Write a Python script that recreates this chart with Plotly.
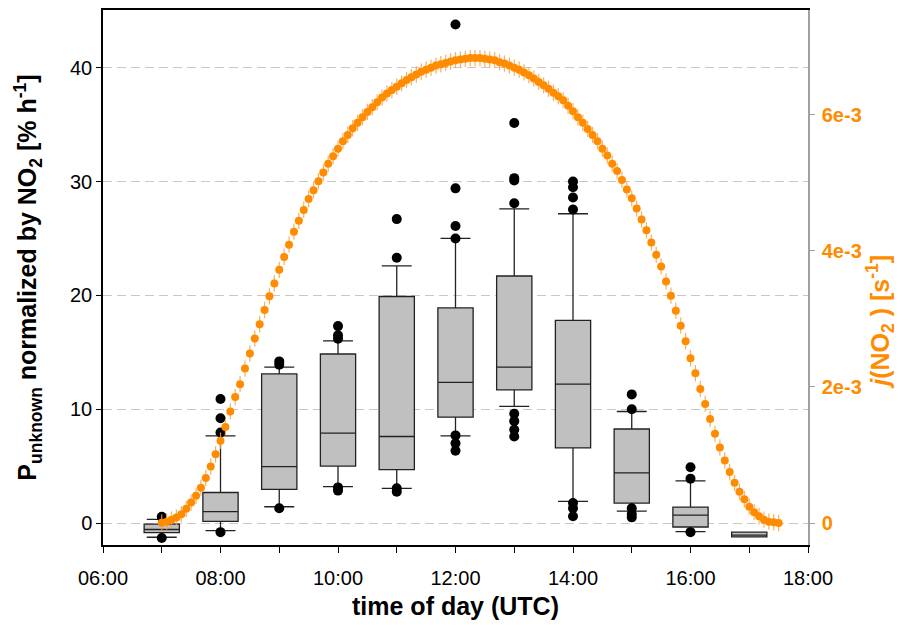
import plotly.graph_objects as go

# ---- box-plot statistics (P_unknown normalized by NO2, % h^-1) ----
box_hours = [7, 8, 9, 10, 11, 12, 13, 14, 15, 16, 17]
box_q1 = [-0.85, 0.15, 2.95, 5.0, 4.7, 9.3, 11.7, 6.6, 1.75, -0.35, -1.22]
box_median = [-0.57, 1.0, 4.95, 7.9, 7.6, 12.35, 13.7, 12.2, 4.4, 0.7, -1.06]
box_q3 = [-0.1, 2.68, 13.1, 14.85, 19.9, 18.9, 21.7, 17.8, 8.26, 1.4, -0.8]
box_lower = [-1.25, -0.67, 1.43, 3.19, 3.05, 7.65, 10.25, 1.9, 1.05, -0.75, -1.22]
box_upper = [0.32, 7.66, 13.7, 16.0, 22.6, 25.0, 27.6, 27.17, 9.8, 3.7, -0.8]

# ---- outliers ----
outlier_hours = [7, 7,
                 8, 8, 8, 8,
                 9, 9, 9,
                 10, 10, 10, 10, 10,
                 11, 11, 11, 11,
                 12, 12, 12, 12, 12, 12, 12,
                 13, 13, 13, 13, 13, 13, 13, 13,
                 14, 14, 14, 14, 14, 14, 14,
                 15, 15, 15, 15, 15,
                 16, 16, 16]
outlier_values = [0.55, -1.32,
                  10.9, 9.2, 7.95, -0.8,
                  14.2, 13.9, 1.3,
                  17.3, 16.5, 16.2, 3.13, 2.85,
                  26.7, 23.3, 3.05, 2.75,
                  43.8, 29.4, 26.1, 25.0, 7.7, 7.0, 6.35,
                  35.15, 30.3, 30.1, 28.1, 9.6, 8.95, 8.2, 7.6,
                  30.0, 29.5, 28.6, 27.55, 1.75, 1.3, 0.6,
                  11.3, 10.0, 1.3, 0.8, 0.5,
                  4.9, 3.9, -0.8]

# ---- j(NO2), 5-min means from 07:00 to 17:30 (units of 1e-3 s^-1) ----
j_start_hour = 7.0
j_step_hour = 5.0 / 60.0
j_values_e3 = [
    0.005, 0.02, 0.05, 0.08, 0.13, 0.21, 0.30, 0.40, 0.52, 0.66, 0.83, 1.01,   # 07:00-07:55
    1.21, 1.41, 1.64, 1.85, 2.04, 2.27, 2.49, 2.71, 2.92, 3.13, 3.33, 3.52,     # 08:00-08:55
    3.72, 3.91, 4.09, 4.28, 4.44, 4.60, 4.76, 4.89, 5.02, 5.15, 5.28, 5.39,     # 09:00-09:55
    5.50, 5.61, 5.70, 5.80, 5.88, 5.96, 6.04, 6.11, 6.18, 6.25, 6.31, 6.36,     # 10:00-10:55
    6.41, 6.46, 6.51, 6.55, 6.59, 6.63, 6.66, 6.69, 6.72, 6.74, 6.76, 6.78,     # 11:00-11:55
    6.80, 6.81, 6.82, 6.83, 6.83, 6.83, 6.82, 6.81, 6.80, 6.77, 6.75, 6.72,     # 12:00-12:55
    6.69, 6.66, 6.62, 6.58, 6.53, 6.48, 6.43, 6.38, 6.32, 6.27, 6.21, 6.13,     # 13:00-13:55
    6.05, 5.96, 5.88, 5.79, 5.70, 5.61, 5.50, 5.40, 5.28, 5.17, 5.04, 4.90,     # 14:00-14:55
    4.77, 4.62, 4.46, 4.30, 4.12, 3.94, 3.77, 3.55, 3.34, 3.12, 2.90, 2.67,     # 15:00-15:55
    2.42, 2.20, 1.97, 1.75, 1.53, 1.31, 1.11, 0.92, 0.75, 0.59, 0.46, 0.35,     # 16:00-16:55
    0.24, 0.16, 0.10, 0.05, 0.02, 0.01, 0.00,                                   # 17:00-17:30
]
j_hours = [j_start_hour + i * j_step_hour for i in range(len(j_values_e3))]
j_values = [v * 1e-3 for v in j_values_e3]

# ---- tick labels ----
x_tickvals = [6, 8, 10, 12, 14, 16, 18]
x_ticktext = ["06:00", "08:00", "10:00", "12:00", "14:00", "16:00", "18:00"]
y2_tickvals = [0, 2e-3, 4e-3, 6e-3]
y2_ticktext = ["0", "2e-3", "4e-3", "6e-3"]

ORANGE = "#FF8C00"
FONT = "Liberation Sans, Arial, sans-serif"

fig = go.Figure()

fig.add_trace(go.Box(
    x=box_hours, q1=box_q1, median=box_median, q3=box_q3,
    lowerfence=box_lower, upperfence=box_upper,
    width=0.6, whiskerwidth=0.85, boxpoints=False,
    fillcolor="#C0C0C0", line=dict(color="#222222", width=1.3),
    showlegend=False, hoverinfo="skip",
))

fig.add_trace(go.Scatter(
    x=outlier_hours, y=outlier_values, mode="markers",
    marker=dict(color="black", size=10),
    showlegend=False, hoverinfo="skip",
))

fig.add_trace(go.Scatter(
    x=j_hours, y=j_values, mode="markers", yaxis="y2",
    marker=dict(color=ORANGE, size=8),
    error_y=dict(type="constant", value=0.12e-3, color="rgba(255,160,60,0.85)",
                 thickness=1.2, width=0),
    showlegend=False, hoverinfo="skip",
))

# the page body has an 8 px default margin, so the figure is offset by 8 px
fig.update_layout(
    width=900, height=617,
    margin=dict(l=95, r=100, t=2, b=80),
    paper_bgcolor="white", plot_bgcolor="white",
    font=dict(family=FONT, size=20, color="black"),
    xaxis=dict(
        range=[6, 18], tickvals=x_tickvals, ticktext=x_ticktext,
        automargin=False,
        showline=True, linecolor="black", linewidth=1.5, mirror=True,
        ticks="outside", ticklen=6, tickcolor="black", tickwidth=1.2,
        minor=dict(dtick=1, tick0=6, ticks="outside", ticklen=6,
                   tickcolor="black", tickwidth=1.2),
        showgrid=False, zeroline=False,
        tickfont=dict(size=20), ticklabelstandoff=8,
        title=dict(text="time of day (UTC)", font=dict(size=25, weight="bold"),
                   standoff=10),
    ),
    yaxis=dict(
        range=[-1.93, 45.07], tickvals=[0, 10, 20, 30, 40],
        automargin=False,
        showline=True, linecolor="black", linewidth=1.5,
        ticks="outside", ticklen=5, tickcolor="black",
        showgrid=True, gridcolor="#C8C8C8", gridwidth=1.2, griddash="9px,5px",
        zeroline=False, tickfont=dict(size=20),
        title=dict(text="P<sub>unknown</sub> normalized by NO<sub>2</sub> [% h<sup>-1</sup>]",
                   font=dict(size=25, weight="bold"), standoff=26),
    ),
    yaxis2=dict(
        overlaying="y", side="right",
        automargin=False,
        range=[-0.3227e-3, 7.537e-3], tickvals=y2_tickvals, ticktext=y2_ticktext,
        showline=True, linecolor="#A0A0A0", linewidth=1.5,
        ticks="outside", ticklen=5, tickcolor="#A0A0A0",
        showgrid=False, zeroline=False,
        tickfont=dict(size=20, color=ORANGE, weight="bold"), ticklabelstandoff=3,
    ),
    annotations=[dict(
        text="<i>j</i>(NO<sub>2</sub> ) [s<sup>-1</sup>]",
        xref="paper", yref="paper", x=1.102, y=0.417,
        xanchor="center", yanchor="middle", textangle=-90, showarrow=False,
        font=dict(size=25, color=ORANGE, weight="bold"),
    )],
)

fig.write_html("out.html")
